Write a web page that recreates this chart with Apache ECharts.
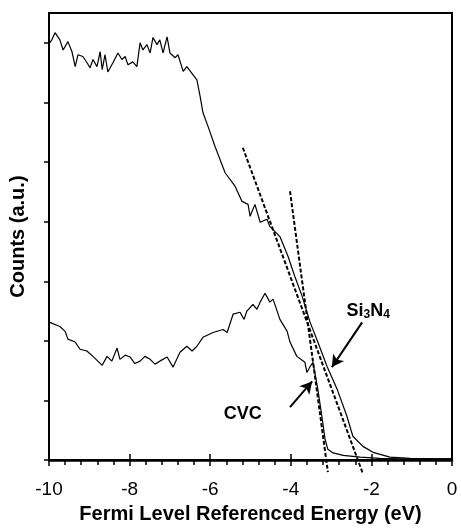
<!DOCTYPE html>
<html>
<head>
<meta charset="utf-8">
<script src="https://cdn.jsdelivr.net/npm/echarts@6/dist/echarts.min.js"></script>
<style>
    html, body { margin: 0; padding: 0; background: #fff; }
    #chart { width: 461px; height: 529px; }
</style>
</head>
<body>
<div id="chart"></div>
<script>
// 上面的曲线 Si3N4 (energy eV, counts)
var si3n4Energy = [-10.00, -9.93, -9.85, -9.73, -9.65, -9.53, -9.43, -9.35, -9.28, -9.16, -9.06, -8.98, -8.91, -8.81,
    -8.73, -8.68, -8.61, -8.54, -8.41, -8.29, -8.19, -8.11, -8.04, -7.92, -7.82, -7.74, -7.67, -7.57, -7.49, -7.42,
    -7.32, -7.25, -7.17, -7.07, -7.00, -6.87, -6.80, -6.67, -6.58, -6.33, -6.25, -6.18, -6.05, -5.88, -5.63, -5.38,
    -5.21, -5.06, -5.01, -4.89, -4.76, -4.59, -4.52, -4.27, -4.07, -3.90, -3.72, -3.52, -3.33, -3.10, -2.85, -2.61,
    -2.46, -2.21, -1.96, -1.54, -1.04, -0.55, 0.00];
var si3n4Counts = [6.98, 7.05, 7.17, 7.05, 6.88, 7.02, 6.85, 6.60, 6.80, 6.77, 6.67, 6.58, 6.72, 6.60,
    6.85, 6.55, 6.80, 6.51, 6.67, 6.83, 6.72, 6.77, 6.63, 6.68, 6.60, 7.00, 6.88, 6.97, 6.83, 7.09,
    6.97, 7.05, 6.83, 7.10, 6.83, 6.75, 6.80, 6.52, 6.60, 6.38, 6.10, 5.83, 5.59, 5.26, 4.82, 4.59,
    4.34, 4.29, 4.09, 4.29, 3.99, 4.04, 3.92, 3.75, 3.42, 3.08, 2.75, 2.31, 1.98, 1.57, 1.19, 0.74,
    0.40, 0.23, 0.13, 0.05, 0.03, 0.02, 0.02];

// 下面的曲线 CVC
var cvcEnergy = [-9.98, -9.73, -9.60, -9.53, -9.35, -9.23, -9.06, -8.91, -8.68, -8.56, -8.44, -8.31, -8.24, -8.11,
    -7.99, -7.87, -7.74, -7.62, -7.49, -7.37, -7.25, -7.07, -6.92, -6.75, -6.58, -6.45, -6.33, -6.18, -5.93,
    -5.68, -5.58, -5.43, -5.26, -5.16, -5.09, -4.94, -4.84, -4.76, -4.64, -4.52, -4.44, -4.27, -4.09, -4.02,
    -3.85, -3.65, -3.60, -3.52, -3.45, -3.33, -3.23, -3.15, -3.08, -2.95, -2.70, -2.28, -1.79, -1.29, -0.55, 0.00];
var cvcCounts = [2.31, 2.24, 2.16, 2.03, 1.98, 1.86, 1.83, 1.74, 1.59, 1.74, 1.66, 1.88, 1.69, 1.76,
    1.73, 1.62, 1.66, 1.74, 1.69, 1.61, 1.66, 1.73, 1.56, 1.81, 1.91, 1.83, 1.91, 2.06, 2.14,
    2.19, 2.14, 2.45, 2.48, 2.36, 2.50, 2.61, 2.53, 2.65, 2.80, 2.65, 2.70, 2.36, 2.16, 1.98,
    1.74, 1.64, 1.47, 1.57, 1.64, 1.19, 0.74, 0.35, 0.18, 0.12, 0.08, 0.05, 0.03, 0.02, 0.02, 0.02];

// 切线 (虚线)
var si3n4FitEnergy = [-5.19, -2.21];
var si3n4FitCounts = [5.24, -0.23];
var cvcFitEnergy = [-4.02, -3.08];
var cvcFitCounts = [4.51, -0.20];

// 箭头 [起点, 终点]
var si3n4Arrow = [[-2.23, 2.31], [-2.98, 1.56]];
var cvcArrow = [[-4.02, 0.89], [-3.47, 1.32]];
var si3n4LabelPos = [-2.08, 2.50];
var cvcLabelPos = [-5.19, 0.77];

var xTicks = [-10, -8, -6, -4, -2, 0];
var yTicks = [0, 1, 2, 3, 4, 5, 6, 7];

function pairs(xs, ys) {
    var out = [];
    for (var i = 0; i < xs.length; i++) {
        out.push([xs[i], ys[i]]);
    }
    return out;
}

var myChart = echarts.init(document.getElementById('chart'));

var fontFamily = '"Liberation Sans", Arial, sans-serif';

var option = {
    animation: false,
    textStyle: { fontFamily: fontFamily },
    grid: {
        left: 49,
        right: 9,
        top: 13,
        bottom: 68,
        show: true,
        borderColor: '#000',
        borderWidth: 2
    },
    xAxis: [
        {
            type: 'value',
            min: xTicks[0],
            max: xTicks[xTicks.length - 1],
            interval: 2,
            name: 'Fermi Level Referenced Energy (eV)',
            nameLocation: 'middle',
            nameGap: 42,
            nameTextStyle: { color: '#000', fontSize: 20, fontWeight: 'bold', fontFamily: fontFamily },
            axisLine: { onZero: false, lineStyle: { color: '#000', width: 2.5 } },
            axisTick: { show: true, length: 6, lineStyle: { color: '#000', width: 1.5 } },
            minorTick: { show: true, splitNumber: 5, length: 5, lineStyle: { color: '#000', width: 1.5 } },
            axisLabel: { color: '#000', fontSize: 19, margin: 20, fontFamily: fontFamily },
            splitLine: { show: false }
        },
        {
            // 让主刻度穿过坐标轴
            type: 'value',
            position: 'bottom',
            min: xTicks[0],
            max: xTicks[xTicks.length - 1],
            interval: 2,
            axisLine: { show: false, onZero: false },
            axisTick: { show: true, inside: true, length: 6, lineStyle: { color: '#000', width: 1.5 } },
            axisLabel: { show: false },
            splitLine: { show: false }
        }
    ],
    yAxis: {
        type: 'value',
        min: 0,
        max: 7.5,
        interval: 1,
        name: 'Counts (a.u.)',
        nameLocation: 'middle',
        nameGap: 21,
        nameTextStyle: { color: '#000', fontSize: 20, fontWeight: 'bold', fontFamily: fontFamily },
        axisLine: { show: true, onZero: false, lineStyle: { color: '#000', width: 2 } },
        axisTick: { show: true, length: 5, customValues: yTicks, lineStyle: { color: '#000', width: 1.5 } },
        axisLabel: { show: false },
        splitLine: { show: false }
    },
    series: [
        {
            name: 'Si3N4',
            type: 'line',
            data: pairs(si3n4Energy, si3n4Counts),
            showSymbol: false,
            lineStyle: { color: '#000', width: 1.2 },
            markLine: {
                silent: true,
                symbol: ['none', 'arrow'],
                symbolSize: [10, 12],
                label: { show: false },
                lineStyle: { color: '#000', width: 2, type: 'solid' },
                data: [[{ coord: si3n4Arrow[0] }, { coord: si3n4Arrow[1] }]]
            },
            markPoint: {
                silent: true,
                symbol: 'circle',
                symbolSize: 0,
                data: [{ coord: si3n4LabelPos }],
                label: {
                    show: true,
                    formatter: '{b|Si}{s|3}{b|N}{s|4}',
                    rich: {
                        b: { fontSize: 18, fontWeight: 'bold', color: '#000', fontFamily: fontFamily },
                        s: { fontSize: 12, fontWeight: 'bold', color: '#000', fontFamily: fontFamily, verticalAlign: 'bottom', padding: [7, 0, 0, 0] }
                    }
                }
            }
        },
        {
            name: 'CVC',
            type: 'line',
            data: pairs(cvcEnergy, cvcCounts),
            showSymbol: false,
            lineStyle: { color: '#000', width: 1.2 },
            markLine: {
                silent: true,
                symbol: ['none', 'arrow'],
                symbolSize: [10, 12],
                label: { show: false },
                lineStyle: { color: '#000', width: 2, type: 'solid' },
                data: [[{ coord: cvcArrow[0] }, { coord: cvcArrow[1] }]]
            },
            markPoint: {
                silent: true,
                symbol: 'circle',
                symbolSize: 0,
                data: [{ coord: cvcLabelPos }],
                label: {
                    show: true,
                    formatter: 'CVC',
                    fontSize: 18,
                    fontWeight: 'bold',
                    color: '#000',
                    fontFamily: fontFamily
                }
            }
        },
        {
            name: 'Si3N4 fit',
            type: 'line',
            data: pairs(si3n4FitEnergy, si3n4FitCounts),
            showSymbol: false,
            clip: false,
            lineStyle: { color: '#000', width: 2, type: [4, 2] }
        },
        {
            name: 'CVC fit',
            type: 'line',
            data: pairs(cvcFitEnergy, cvcFitCounts),
            showSymbol: false,
            clip: false,
            lineStyle: { color: '#000', width: 2, type: [4, 2] }
        }
    ]
};

myChart.setOption(option);
</script>
</body>
</html>
